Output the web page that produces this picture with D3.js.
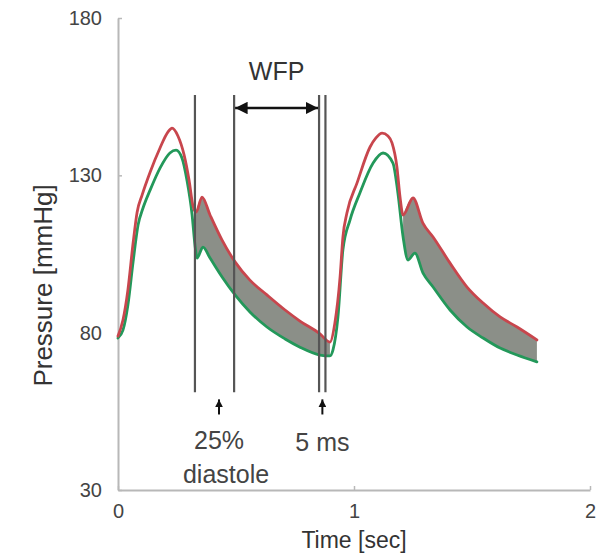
<!DOCTYPE html>
<html>
<head>
<meta charset="utf-8">
<script src="https://cdn.jsdelivr.net/npm/d3@7"></script>
<style>
  body { margin: 0; background: #fff; }
  svg text { font-family: "Liberation Sans", Arial, sans-serif; }
</style>
</head>
<body>
<svg id="chart" width="605" height="553"></svg>
<script>
// Aortic pressure traces, upper (red) and lower (green) envelope, two beats
const redTime = [0.000, 0.021, 0.042, 0.064, 0.081, 0.102, 0.136, 0.178, 0.212, 0.229, 0.254, 0.280, 0.301, 0.318, 0.331,
  0.356, 0.390, 0.441, 0.496, 0.559, 0.631, 0.708, 0.771, 0.856, 0.898,
  0.919, 0.941, 0.953, 0.970, 1.013, 1.068, 1.093, 1.119, 1.144, 1.161, 1.182, 1.195, 1.208,
  1.250, 1.292, 1.335, 1.407, 1.479, 1.547, 1.619, 1.691, 1.775];
const redPressure = [78.9, 84.0, 93.6, 108.5, 118.3, 123.7, 131.0, 138.7, 143.8, 145.0, 142.5, 136.5, 128.5, 120.2, 118.3,
  123.1, 117.4, 109.4, 102.5, 96.7, 92.0, 87.2, 83.7, 79.6, 77.0,
  83.1, 97.7, 110.4, 118.0, 127.6, 139.0, 141.9, 143.4, 142.5, 140.3, 132.6, 123.1, 117.4,
  122.8, 114.8, 110.4, 102.1, 94.5, 89.4, 85.0, 81.8, 77.7];

const greenTime = [0.000, 0.021, 0.042, 0.064, 0.085, 0.106, 0.136, 0.178, 0.220, 0.246, 0.271, 0.292, 0.314, 0.326, 0.335,
  0.360, 0.390, 0.441, 0.496, 0.559, 0.631, 0.708, 0.771, 0.856, 0.898,
  0.911, 0.932, 0.953, 0.983, 1.025, 1.081, 1.123, 1.165, 1.186, 1.208, 1.229,
  1.258, 1.292, 1.335, 1.407, 1.479, 1.547, 1.619, 1.691, 1.775];
const greenPressure = [78.3, 80.8, 88.8, 102.5, 114.2, 119.6, 125.3, 132.3, 137.1, 138.0, 135.5, 128.5, 117.4, 107.9, 103.7,
  107.2, 103.7, 97.7, 92.0, 86.6, 81.8, 78.0, 75.4, 72.9, 72.6,
  74.5, 85.0, 106.3, 115.8, 124.4, 133.9, 137.1, 133.9, 124.4, 110.4, 103.1,
  105.3, 99.0, 94.5, 87.2, 81.8, 78.3, 75.1, 72.9, 70.7];

// diastolic intervals (dicrotic notch to end of beat) where the band is shaded
const diastoleStart = [0.331, 1.208];
const diastoleEnd = [0.898, 1.775];

const xTicks = [0, 1, 2];
const yTicks = [30, 80, 130, 180];

// markers: 25% diastole, start of WFP, 5 ms before next upstroke
const markerTimes = [0.326, 0.492, 0.852, 0.879];
const markerTop = 155.5, markerBottom = 61.1;
const wfpFrom = 0.492, wfpTo = 0.852, wfpLevel = 151.4;
const pointerTimes = [0.428, 0.866];

const svg = d3.select("#chart");
const x = d3.scaleLinear().domain([0, 2]).range([118, 590]);
const y = d3.scaleLinear().domain([30, 180]).range([490, 18]);

// axes
const axisColor = "#b8b8b8";
const gx = svg.append("g").attr("transform", `translate(0,${y(30)})`)
  .call(d3.axisBottom(x).tickValues(xTicks).tickFormat(d3.format("d")).tickSizeInner(-4).tickSizeOuter(0).tickPadding(14));
const gy = svg.append("g").attr("transform", `translate(${x(0)},0)`)
  .call(d3.axisLeft(y).tickValues(yTicks).tickSizeInner(-4).tickSizeOuter(0).tickPadding(16));
[gx, gy].forEach(g => {
  g.select(".domain").attr("stroke", axisColor).attr("stroke-width", 2);
  g.selectAll(".tick line").attr("stroke", axisColor).attr("stroke-width", 1.5);
  g.selectAll(".tick text").attr("fill", "#444").attr("font-size", 20)
    .attr("font-family", "Liberation Sans, Arial, sans-serif");
});

svg.append("text").attr("x", x(1)).attr("y", 548).attr("text-anchor", "middle")
  .attr("font-size", 23).attr("fill", "#333").text("Time [sec]");
svg.append("text").attr("transform", `translate(52,${y(95)}) rotate(-90)`).attr("text-anchor", "middle")
  .attr("font-size", 26).attr("fill", "#333").text("Pressure [mmHg]");

// traces
const red = redTime.map((t, i) => [t, redPressure[i]]);
const green = greenTime.map((t, i) => [t, greenPressure[i]]);
const line = d3.line().x(d => x(d[0])).y(d => y(d[1])).curve(d3.curveMonotoneX);

// shaded band between envelopes in diastole
diastoleStart.forEach((s, k) => {
  const e = diastoleEnd[k];
  const top = red.filter(d => d[0] >= s - 1e-6 && d[0] <= e + 1e-6);
  const bot = green.filter(d => d[0] >= s - 0.01 && d[0] <= e + 1e-6);
  const topPath = line(top);
  const botPath = line(bot.slice().reverse());
  svg.append("path")
    .attr("d", topPath + "L" + botPath.slice(1) + "Z")
    .attr("fill", "#8b8f88");
});

svg.append("path").datum(green).attr("d", line)
  .attr("fill", "none").attr("stroke", "#23985a").attr("stroke-width", 2.8).attr("stroke-linejoin", "round").attr("stroke-linecap", "round");
svg.append("path").datum(red).attr("d", line)
  .attr("fill", "none").attr("stroke", "#c8464d").attr("stroke-width", 2.8).attr("stroke-linejoin", "round").attr("stroke-linecap", "round");

// vertical markers
svg.selectAll("line.marker").data(markerTimes).enter().append("line")
  .attr("class", "marker")
  .attr("x1", d => x(d)).attr("x2", d => x(d))
  .attr("y1", y(markerTop)).attr("y2", y(markerBottom))
  .attr("stroke", "#555").attr("stroke-width", 2.2);

// WFP double arrow
const defs = svg.append("defs");
defs.append("marker").attr("id", "head").attr("viewBox", "0 0 10 10")
  .attr("refX", 10).attr("refY", 5).attr("markerWidth", 5).attr("markerHeight", 5)
  .attr("orient", "auto-start-reverse")
  .append("path").attr("d", "M0,0L10,5L0,10Z").attr("fill", "#111");
svg.append("line")
  .attr("x1", x(wfpFrom) + 1).attr("x2", x(wfpTo) - 1)
  .attr("y1", y(wfpLevel)).attr("y2", y(wfpLevel))
  .attr("stroke", "#111").attr("stroke-width", 2.5)
  .attr("marker-start", "url(#head)").attr("marker-end", "url(#head)");
svg.append("text").attr("x", x((wfpFrom + wfpTo) / 2)).attr("y", 80).attr("text-anchor", "middle")
  .attr("font-size", 25).attr("fill", "#333").text("WFP");

// small pointers under the markers
defs.append("marker").attr("id", "tip").attr("viewBox", "0 0 10 10")
  .attr("refX", 10).attr("refY", 5).attr("markerWidth", 4).attr("markerHeight", 4)
  .attr("orient", "auto")
  .append("path").attr("d", "M0,0L10,5L0,10Z").attr("fill", "#111");
svg.selectAll("line.pointer").data(pointerTimes).enter().append("line")
  .attr("class", "pointer")
  .attr("x1", d => x(d)).attr("x2", d => x(d))
  .attr("y1", y(54.0)).attr("y2", y(58.8))
  .attr("stroke", "#111").attr("stroke-width", 2)
  .attr("marker-end", "url(#tip)");

svg.append("text").attr("x", x(pointerTimes[0])).attr("y", 449).attr("text-anchor", "middle")
  .attr("font-size", 25).attr("fill", "#444").text("25%");
svg.append("text").attr("x", x(pointerTimes[0]) + 7).attr("y", 483).attr("text-anchor", "middle")
  .attr("font-size", 25).attr("fill", "#444").text("diastole");
svg.append("text").attr("x", x(pointerTimes[1])).attr("y", 451).attr("text-anchor", "middle")
  .attr("font-size", 25).attr("fill", "#444").text("5 ms");
</script>
</body>
</html>
